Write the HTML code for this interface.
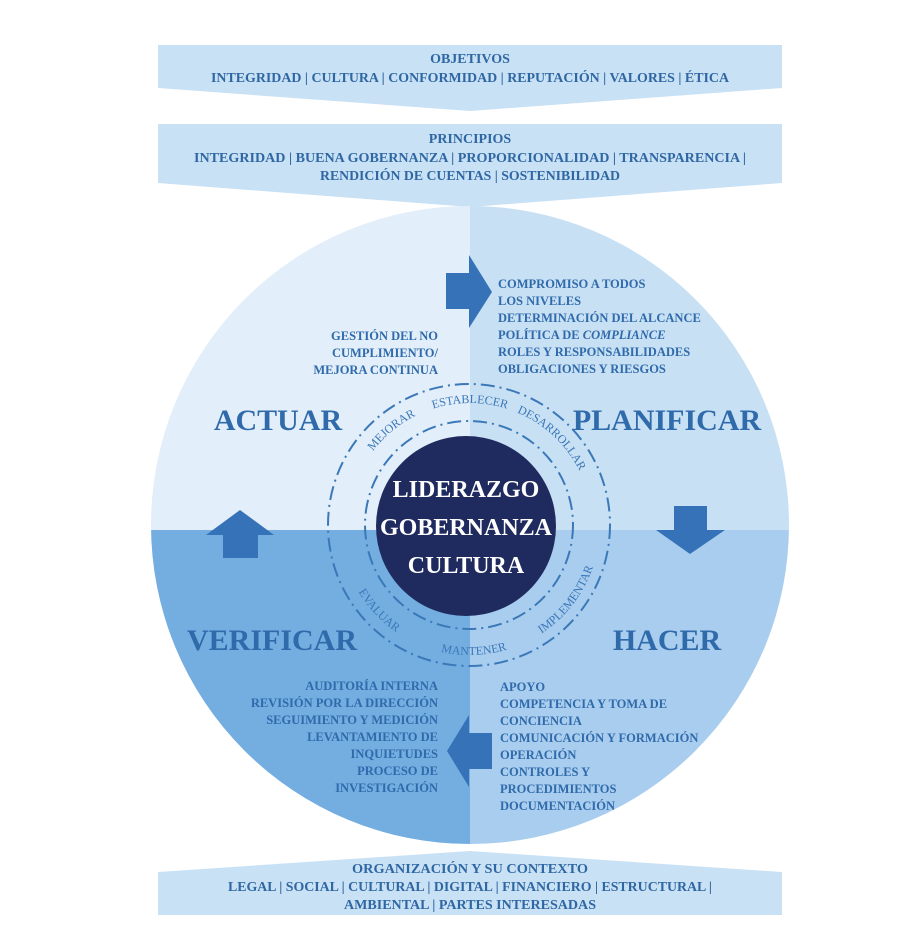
<!DOCTYPE html>
<html><head><meta charset="utf-8"><style>
html,body{margin:0;padding:0;background:#fff;}
svg{display:block;}
text{font-family:"Liberation Serif",serif;font-weight:bold;}
</style></head><body>
<svg width="916" height="940" viewBox="0 0 916 940" xmlns="http://www.w3.org/2000/svg">
<defs>
<clipPath id="c"><circle cx="470" cy="525" r="319"/></clipPath>
<path id="up" d="M348,525 A122,122 0 1 1 592,525 A122,122 0 1 1 348,525"/>
<path id="lo" d="M340,525 A130,130 0 0 0 600,525"/>
</defs>
<polygon points="158,45 782,45 782,88 470,111 158,88" fill="#c9e1f5"/>
<polygon points="158,124 782,124 782,183 470,207 158,183" fill="#c9e1f5"/>
<polygon points="158,872 470,851 782,872 782,915 158,915" fill="#c9e1f5"/>
<g fill="#2f67a3" text-anchor="middle">
<text x="470" y="63" font-size="14">OBJETIVOS</text>
<text x="470" y="82" font-size="14" textLength="518" lengthAdjust="spacingAndGlyphs">INTEGRIDAD | CULTURA | CONFORMIDAD | REPUTACIÓN | VALORES | ÉTICA</text>
<text x="470" y="143" font-size="14">PRINCIPIOS</text>
<text x="470" y="162" font-size="14" textLength="552" lengthAdjust="spacingAndGlyphs">INTEGRIDAD | BUENA GOBERNANZA | PROPORCIONALIDAD | TRANSPARENCIA |</text>
<text x="470" y="180" font-size="14" textLength="300" lengthAdjust="spacingAndGlyphs">RENDICIÓN DE CUENTAS | SOSTENIBILIDAD</text>
<text x="470" y="873" font-size="14" textLength="236" lengthAdjust="spacingAndGlyphs">ORGANIZACIÓN Y SU CONTEXTO</text>
<text x="470" y="891" font-size="14" textLength="484" lengthAdjust="spacingAndGlyphs">LEGAL | SOCIAL | CULTURAL | DIGITAL | FINANCIERO | ESTRUCTURAL |</text>
<text x="470" y="909" font-size="14" textLength="252" lengthAdjust="spacingAndGlyphs">AMBIENTAL | PARTES INTERESADAS</text>
</g>
<g clip-path="url(#c)">
<rect x="140" y="200" width="330" height="330" fill="#e2eef9"/>
<rect x="470" y="200" width="330" height="330" fill="#c8e0f4"/>
<rect x="140" y="530" width="330" height="330" fill="#74ade0"/>
<rect x="470" y="530" width="330" height="330" fill="#a9cdee"/>
</g>
<g fill="#3572b8">
<polygon points="446,273 469,273 469,255 492,292 469,328 469,309 446,309"/>
<polygon points="674,506 707,506 707,530 725,530 690,554 656,530 674,530"/>
<polygon points="492,733 469,733 469,715 447,751 469,787 469,769 492,769"/>
<polygon points="223,558 258,558 258,535 274,535 240,510 206,535 223,535"/>
</g>
<circle cx="469" cy="525" r="141" fill="none" stroke="#3a78b8" stroke-width="2" stroke-dasharray="14 5 2 5"/>
<circle cx="469" cy="525" r="104" fill="none" stroke="#3a78b8" stroke-width="2" stroke-dasharray="14 5 2 5"/>
<circle cx="466" cy="526" r="90" fill="#1f2b5e"/>
<g fill="#fff" text-anchor="middle" font-size="24">
<text x="466" y="497">LIDERAZGO</text>
<text x="466" y="535">GOBERNANZA</text>
<text x="466" y="573">CULTURA</text>
</g>
<g fill="#3a78b8" font-size="12">
<text text-anchor="middle" style="font-weight:normal"><textPath href="#up" startOffset="14%">MEJORAR</textPath></text>
<text text-anchor="middle" style="font-weight:normal"><textPath href="#up" startOffset="25%">ESTABLECER</textPath></text>
<text text-anchor="middle" style="font-weight:normal"><textPath href="#up" startOffset="37%">DESARROLLAR</textPath></text>
<text text-anchor="middle" style="font-weight:normal"><textPath href="#lo" startOffset="24%">EVALUAR</textPath></text>
<text text-anchor="middle" style="font-weight:normal"><textPath href="#lo" startOffset="51%">MANTENER</textPath></text>
<text text-anchor="middle" style="font-weight:normal"><textPath href="#lo" startOffset="79%">IMPLEMENTAR</textPath></text>
</g>
<g fill="#2f6aab" font-size="30" text-anchor="middle">
<text x="278" y="430">ACTUAR</text>
<text x="667" y="430">PLANIFICAR</text>
<text x="272" y="650">VERIFICAR</text>
<text x="667" y="650">HACER</text>
</g>
<g fill="#2f6aab" font-size="12.5">
<g text-anchor="start">
<text x="498" y="288">COMPROMISO A TODOS</text>
<text x="498" y="305">LOS NIVELES</text>
<text x="498" y="322">DETERMINACIÓN DEL ALCANCE</text>
<text x="498" y="339">POLÍTICA DE <tspan font-style="italic">COMPLIANCE</tspan></text>
<text x="498" y="356">ROLES Y RESPONSABILIDADES</text>
<text x="498" y="373">OBLIGACIONES Y RIESGOS</text>
<text x="500" y="691">APOYO</text>
<text x="500" y="708">COMPETENCIA Y TOMA DE</text>
<text x="500" y="725">CONCIENCIA</text>
<text x="500" y="742">COMUNICACIÓN Y FORMACIÓN</text>
<text x="500" y="759">OPERACIÓN</text>
<text x="500" y="776">CONTROLES Y</text>
<text x="500" y="793">PROCEDIMIENTOS</text>
<text x="500" y="810">DOCUMENTACIÓN</text>
</g>
<g text-anchor="end">
<text x="438" y="340">GESTIÓN DEL NO</text>
<text x="438" y="357">CUMPLIMIENTO/</text>
<text x="438" y="374">MEJORA CONTINUA</text>
<text x="438" y="690">AUDITORÍA INTERNA</text>
<text x="438" y="707">REVISIÓN POR LA DIRECCIÓN</text>
<text x="438" y="724">SEGUIMIENTO Y MEDICIÓN</text>
<text x="438" y="741">LEVANTAMIENTO DE</text>
<text x="438" y="758">INQUIETUDES</text>
<text x="438" y="775">PROCESO DE</text>
<text x="438" y="792">INVESTIGACIÓN</text>
</g>
</g>
</svg>
</body></html>
